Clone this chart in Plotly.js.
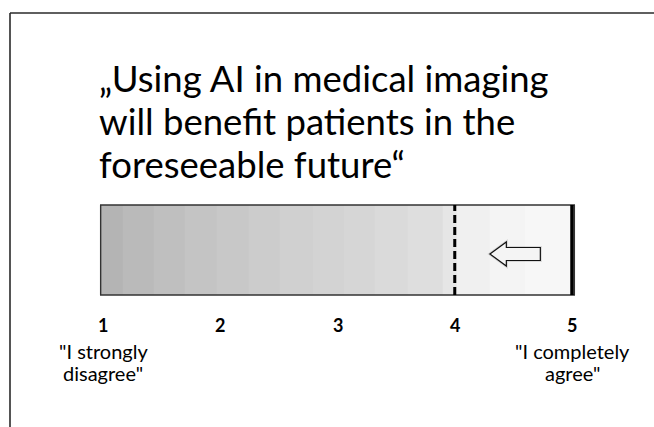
<!DOCTYPE html>
<html>
<head>
<meta charset="utf-8">
<script src="https://cdn.plot.ly/plotly-3.0.1.min.js"></script>
<style>html,body{margin:0;padding:0;background:#fff;}#chart{width:654px;height:427px;}</style>
</head>
<body>
<div id="chart"></div>
<script>
// Scale data
const tickValues = [1, 2, 3, 4, 5];
const tickLabels = ['1', '2', '3', '4', '5'];
const endLabelsLine1 = ['"I strongly', '', '', '', '"I completely'];
const endLabelsLine2 = ['disagree"', '', '', '', 'agree"'];
const titleLines = ['„Using AI in medical imaging', 'will benefit patients in the', 'foreseeable future“'];

// Gradient bands of the scale bar (edges on the 1..5 scale, grey level 0-255)
const bandEdges = [0.98, 1.17, 1.43, 1.70, 1.97, 2.24, 2.51, 2.79, 3.05, 3.32, 3.60, 3.90, 4.02, 4.30, 4.60, 5.02];
const bandGrey  = [180, 186, 191, 196, 200, 204, 208, 211, 214, 218, 222, 230, 240, 244, 247];

// Markers on the scale
const thresholdValue = 4;   // dashed line
const maxValue = 5;         // solid line
const arrowTip = 4.30;      // arrow points left
const arrowNeck = 4.44;
const arrowTail = 4.73;

// ---- layout helpers (pixel mapping) ----
const W = 654, H = 427;
const pxPerUnit = (572 - 103) / 4;
const xMin = 1 - 103 / pxPerUnit;
const xMax = xMin + W / pxPerUnit;
const Y = py => H - py;           // y axis range [0,H] maps to pixel rows
const barTop = Y(205), barBot = Y(295);
const arrowMid = Y(254), shaftHalf = 6.5, headHalf = 12;

const traces = [{
  type: 'heatmap',
  x: bandEdges,
  y: [barBot, barTop],
  z: [bandGrey],
  zmin: 0, zmax: 255,
  colorscale: [[0, '#000000'], [1, '#ffffff']],
  showscale: false, zsmooth: false, hoverinfo: 'skip'
}];

const arrowPath = 'M ' + arrowTip + ',' + arrowMid +
  ' L ' + arrowNeck + ',' + (arrowMid + headHalf) +
  ' L ' + arrowNeck + ',' + (arrowMid + shaftHalf) +
  ' L ' + arrowTail + ',' + (arrowMid + shaftHalf) +
  ' L ' + arrowTail + ',' + (arrowMid - shaftHalf) +
  ' L ' + arrowNeck + ',' + (arrowMid - shaftHalf) +
  ' L ' + arrowNeck + ',' + (arrowMid - headHalf) + ' Z';

const shapes = [
  // frame
  {type: 'line', xref: 'paper', yref: 'paper', x0: 10/W, x1: 1, y0: 1 - 13/H, y1: 1 - 13/H, line: {color: '#2a2a2a', width: 1.6}},
  {type: 'line', xref: 'paper', yref: 'paper', x0: 10/W, x1: 10/W, y0: 1 - 13/H, y1: 0, line: {color: '#2a2a2a', width: 1.6}},
  // bar outline
  {type: 'rect', xref: 'x', yref: 'y', x0: bandEdges[0], x1: bandEdges[bandEdges.length - 1], y0: barBot, y1: barTop, line: {color: '#333333', width: 1.4}},
  // dashed threshold
  {type: 'line', xref: 'x', yref: 'y', x0: thresholdValue, x1: thresholdValue, y0: barBot, y1: barTop, line: {color: '#000000', width: 3, dash: '8px,4px'}},
  // solid max line
  {type: 'line', xref: 'x', yref: 'y', x0: maxValue, x1: maxValue, y0: barBot, y1: barTop, line: {color: '#000000', width: 3.5}},
  // arrow shadow + arrow
  {type: 'path', xref: 'x', yref: 'y', path: arrowPath, fillcolor: 'rgba(0,0,0,0)', line: {color: 'rgba(0,0,0,0.12)', width: 3}},
  {type: 'path', xref: 'x', yref: 'y', path: arrowPath, fillcolor: '#f4f4f4', line: {color: '#111111', width: 1.2}}
];

const annotations = [];
const titleBaselines = [92, 135, 178];
titleLines.forEach((t, i) => {
  annotations.push({
    text: t, xref: 'paper', yref: 'y', x: 97 / W, y: Y(titleBaselines[i] + 9.9),
    xanchor: 'left', yanchor: 'bottom', showarrow: false,
    font: {family: 'Lato, sans-serif', size: 36.5, color: '#000000'}
  });
});
tickValues.forEach((v, i) => {
  annotations.push({
    text: '<b>' + tickLabels[i] + '</b>', xref: 'x', yref: 'y', x: v, y: Y(325),
    xanchor: 'center', yanchor: 'middle', showarrow: false,
    font: {family: 'Lato, sans-serif', size: 18, color: '#000000'}
  });
  if (endLabelsLine1[i]) {
    annotations.push({
      text: endLabelsLine1[i], xref: 'x', yref: 'y', x: v, y: Y(351),
      xanchor: 'center', yanchor: 'middle', showarrow: false,
      font: {family: 'Lato, sans-serif', size: 20, color: '#000000'}
    });
    annotations.push({
      text: endLabelsLine2[i], xref: 'x', yref: 'y', x: v, y: Y(373),
      xanchor: 'center', yanchor: 'middle', showarrow: false,
      font: {family: 'Lato, sans-serif', size: 20, color: '#000000'}
    });
  }
});

const layout = {
  width: W, height: H,
  margin: {l: 0, r: 0, t: 0, b: 0, pad: 0},
  paper_bgcolor: '#ffffff', plot_bgcolor: '#ffffff',
  xaxis: {range: [xMin, xMax], visible: false, fixedrange: true},
  yaxis: {range: [0, H], visible: false, fixedrange: true},
  showlegend: false,
  shapes: shapes,
  annotations: annotations
};

Plotly.newPlot('chart', traces, layout, {staticPlot: true});
</script>
</body>
</html>
